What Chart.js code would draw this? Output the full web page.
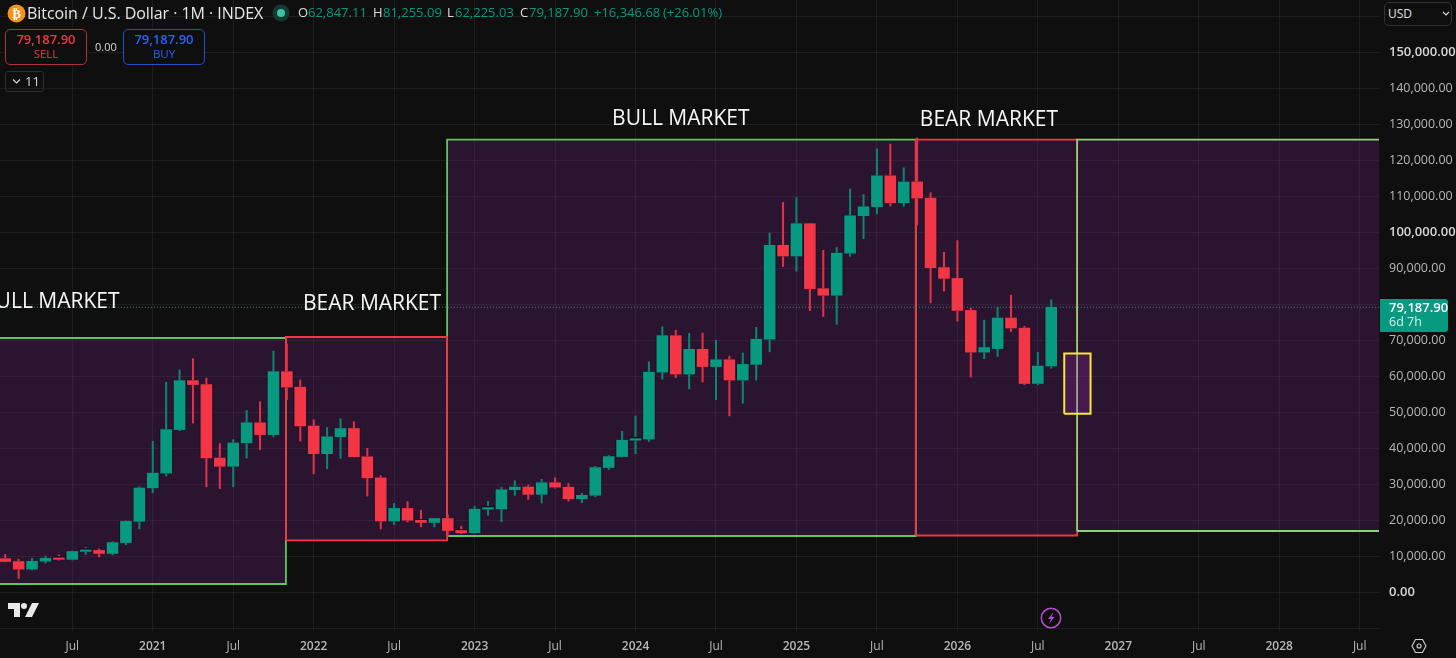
<!DOCTYPE html>
<html><head><meta charset="utf-8">
<script src="https://cdn.jsdelivr.net/npm/chart.js@4"></script>
<style>
html,body{margin:0;padding:0;background:#0f0f0f;width:1456px;height:658px;overflow:hidden;font-family:"Open Sans",sans-serif}
canvas{position:absolute;left:0;top:0}
.t{position:absolute;white-space:nowrap;line-height:1}
.box{position:absolute;box-sizing:border-box;border-radius:5px}
svg{position:absolute}
</style></head><body>
<canvas id="c" width="1456" height="658"></canvas>

<svg style="left:7px;top:4px" width="19" height="19" viewBox="0 0 19 19"><circle cx="9.5" cy="9.5" r="9" fill="#f7931a"/><text x="9.5" y="14" font-size="13" font-weight="700" fill="#fff" text-anchor="middle" font-family="DejaVu Sans">₿</text></svg>
<div class="t" style="left:27px;top:5px;font-size:16px;color:#e8e8e8;letter-spacing:-.05px">Bitcoin / U.S. Dollar · 1M · INDEX</div>
<svg style="left:271px;top:3px" width="20" height="20"><circle cx="10" cy="10" r="8.5" fill="#123a33"/><circle cx="10" cy="10" r="4" fill="#3fc1a6"/></svg>
<div class="t" style="left:298px;top:6px;font-size:13px;color:#dcdcdc">O</div>
<div class="t" style="left:308px;top:6px;font-size:13px;color:#089981">62,847.11</div>
<div class="t" style="left:373px;top:6px;font-size:13px;color:#dcdcdc">H</div>
<div class="t" style="left:383px;top:6px;font-size:13px;color:#089981">81,255.09</div>
<div class="t" style="left:447px;top:6px;font-size:13px;color:#dcdcdc">L</div>
<div class="t" style="left:455px;top:6px;font-size:13px;color:#089981">62,225.03</div>
<div class="t" style="left:520px;top:6px;font-size:13px;color:#dcdcdc">C</div>
<div class="t" style="left:529px;top:6px;font-size:13px;color:#089981">79,187.90</div>
<div class="t" style="left:594px;top:6px;font-size:13px;color:#089981">+16,346.68</div>
<div class="t" style="left:663px;top:6px;font-size:13px;color:#089981">(+26.01%)</div>

<div class="box" style="left:5px;top:29px;width:82px;height:36px;border:1px solid #a8343f;background:#0f0f0f"></div>
<div class="t" style="left:5px;top:33px;width:82px;text-align:center;font-size:13px;font-weight:600;color:#f23645">79,187.90</div>
<div class="t" style="left:5px;top:48px;width:82px;text-align:center;font-size:11.5px;color:#f23645">SELL</div>
<div class="t" style="left:95px;top:41px;font-size:11px;color:#d8d8d8">0.00</div>
<div class="box" style="left:123px;top:29px;width:82px;height:36px;border:1px solid #2450c0;background:#0f0f0f"></div>
<div class="t" style="left:123px;top:33px;width:82px;text-align:center;font-size:13px;font-weight:600;color:#2962ff">79,187.90</div>
<div class="t" style="left:123px;top:48px;width:82px;text-align:center;font-size:11.5px;color:#2962ff">BUY</div>
<div class="box" style="left:5px;top:71px;width:39px;height:21px;border:1px solid #2e2e2e;border-radius:3px"></div>
<svg style="left:12px;top:78px" width="9" height="7"><path d="M1 1.5 L4.5 5 L8 1.5" fill="none" stroke="#d8d8d8" stroke-width="1.2"/></svg>
<div class="t" style="left:25px;top:75px;font-size:13px;color:#d8d8d8">11</div>

<div class="box" style="left:1384px;top:2px;width:68px;height:24px;border:1px solid #333;background:#0f0f0f"></div>
<div class="t" style="left:1388px;top:8px;font-size:12px;color:#e0e0e0">USD</div>
<svg style="left:1442px;top:11px" width="8" height="6"><path d="M1 1 L4 4 L7 1" fill="none" stroke="#d8d8d8" stroke-width="1.2"/></svg>

<div class="box" style="left:1380px;top:299px;width:68px;height:33px;background:#089981;border-radius:0 3px 3px 0"></div>
<div class="t" style="left:1389px;top:301px;font-size:13px;font-weight:600;color:#fff">79,187.90</div>
<div class="t" style="left:1389px;top:316px;font-size:12.5px;color:#d6f0ea">6d 7h</div>

<svg style="left:8px;top:603px" width="32" height="16" viewBox="0 0 32 16"><path d="M0 0H12V14H6V6H0Z M24 0H31L24 14H17Z" fill="#e8e8e8"/><circle cx="16" cy="3" r="3" fill="#e8e8e8"/></svg>
<svg style="left:1040px;top:607px" width="22" height="22" viewBox="0 0 22 22"><circle cx="11" cy="11" r="9.7" fill="none" stroke="#b54fd0" stroke-width="1.5"/><path d="M13.5 5 L8 12 H11 L9 17 L14.5 10 H11.5Z" fill="#b54fd0"/></svg>
<svg style="left:1411px;top:638px" width="16" height="16" viewBox="0 0 16 16"><path d="M4.5 1.5 H11.5 L15 8 L11.5 14.5 H4.5 L1 8Z" fill="none" stroke="#d0d0d0" stroke-width="1.1"/><circle cx="8" cy="8" r="2" fill="none" stroke="#d0d0d0" stroke-width="1.1"/></svg>

<script>
// Categories: one monthly candle each, Feb 2020 .. Aug 2026
const months = ['2020-02','2020-03','2020-04','2020-05','2020-06','2020-07','2020-08','2020-09','2020-10','2020-11','2020-12','2021-01','2021-02','2021-03','2021-04','2021-05','2021-06','2021-07','2021-08','2021-09','2021-10','2021-11','2021-12','2022-01','2022-02','2022-03','2022-04','2022-05','2022-06','2022-07','2022-08','2022-09','2022-10','2022-11','2022-12','2023-01','2023-02','2023-03','2023-04','2023-05','2023-06','2023-07','2023-08','2023-09','2023-10','2023-11','2023-12','2024-01','2024-02','2024-03','2024-04','2024-05','2024-06','2024-07','2024-08','2024-09','2024-10','2024-11','2024-12','2025-01','2025-02','2025-03','2025-04','2025-05','2025-06','2025-07','2025-08','2025-09','2025-10','2025-11','2025-12','2026-01','2026-02','2026-03','2026-04','2026-05','2026-06','2026-07','2026-08'];

const opens  = [9350,8550,6420,8620,9450,9140,11350,11650,10780,13800,19700,29000,33100,45200,58800,57700,37300,35000,41500,47100,43800,61300,57000,46200,38500,43200,45500,37650,31800,19800,23300,20000,19400,20500,17150,16550,23100,23150,28500,29250,27200,30450,29200,25950,26950,34650,37700,42250,42580,61150,71300,60600,67500,62700,64600,58950,63300,70300,96400,93400,102400,84350,82500,94200,104600,107100,115700,108200,114000,109500,90200,87200,78300,66700,67700,76200,73400,58000,62847];
const highs  = [10500,9190,9460,10070,10380,11440,12480,12050,14100,19860,29300,41950,58350,61800,64900,59500,41300,42400,50500,52900,67000,69000,59000,47900,45800,48200,47400,40000,32400,24700,25200,22800,20500,21500,18400,23900,25250,29200,31000,29800,31400,31800,30200,27500,35000,38000,44700,49000,64000,73800,72800,71900,72000,70000,65600,66500,73600,99800,108300,109600,102500,95000,95800,112000,110500,123200,124500,117900,126200,111000,94450,97700,78900,75600,79200,82550,73900,66700,81255];
const lows   = [8450,3850,6150,8100,8900,8970,10500,9880,10370,13200,17600,27700,32300,44900,47000,29300,28800,29300,37300,39600,43200,53500,42000,32900,34300,37200,37600,26700,17600,18800,19500,18200,18150,15500,16300,16500,21400,19600,26950,25800,24800,28900,25300,24900,26550,34100,37600,38500,41900,59200,59600,56500,58400,53500,49000,52500,58900,66800,90500,89200,78200,76600,74400,93300,98200,105100,107300,107200,102000,80400,83650,75300,59800,64900,65500,72400,57700,57600,62225];
const closes = [8550,6420,8620,9450,9140,11350,11650,10780,13800,19700,29000,33100,45200,58800,57700,37300,35000,41500,47100,43800,61300,57000,46200,38500,43200,45500,37650,31800,19800,23300,20000,19400,20500,17150,16550,23100,23150,28500,29250,27200,30450,29200,25950,26950,34650,37700,42250,42580,61150,71300,60600,67500,62700,64600,58950,63300,70300,96400,93400,102400,84350,82500,94200,104600,107100,115700,108200,114000,109500,90200,87200,78300,66700,68000,76200,73400,58000,62847,79188];

// Tick labels
const xTickIndex  = [5,11,17,23,29,35,41,47,53,59,65,71,77,83,89,95,101];
const xTickLabels = ['Jul','2021','Jul','2022','Jul','2023','Jul','2024','Jul','2025','Jul','2026','Jul','2027','Jul','2028','Jul'];
const yTickValues = [-10000,0,10000,20000,30000,40000,50000,60000,70000,80000,90000,100000,110000,120000,130000,140000,150000,160000];
const yTickHidden = [-10000,80000,160000];
const yTickBold   = [0,100000,150000];

// Range boxes: [first month index, last month index, lower price, upper price]
const bullBoxA = [-8,20.93,2300,70640];
const bearBoxA = [20.93,32.95,14440,70920];
const bullBoxB = [32.95,67.9,15640,125720];
const bearBoxB = [67.9,79.93,15780,125720];
const bullBoxC = [79.93,112,17030,125720];
const yellowBox = [78.97,80.93,49600,66300];
const lastPrice = 79187.9;

// Text notes placed on the price chart: [text, month index, price]
const notes = [['BULL MARKET',-1.73,80600],['BEAR MARKET',22.2,80040],['BULL MARKET',45.25,131430],['BEAR MARKET',68.2,131150]];

const up = '#089981', down = '#f23645';
const colours = opens.map((o,i)=> closes[i] >= o ? up : down);
const wickCols = opens.map((o,i)=> closes[i] >= o ? '#0b8672' : '#e03247');

function boxFill(b, fillCol, ord){
  const [x0,x1,lo,hi] = b;
  return {type:'line', data:[{x:x0,y:hi},{x:x1,y:hi}], borderWidth:0, borderColor:'transparent', backgroundColor:fillCol, fill:{value:lo}, pointRadius:0, tension:0, order:ord};
}
function boxLine(b, line, w, ord){
  const [x0,x1,lo,hi] = b;
  return {type:'line', data:[{x:x0,y:lo},{x:x0,y:hi},{x:x1,y:hi},{x:x1,y:lo},{x:x0,y:lo}], borderColor:line, borderWidth:w, fill:false, pointRadius:0, tension:0, order:ord};
}
const fillViolet = 'rgba(156,39,176,0.2)';
const grey = '#b8b8b8';
const isBold = c => !!c.tick && yTickBold.includes(c.tick.value);
const isYear = c => !!c.tick && xTickLabels[xTickIndex.indexOf(c.tick.value)] !== 'Jul';

const notePlugin = {
  id:'notes',
  afterDatasetsDraw(chart){
    const {ctx,scales:{x,y}} = chart;
    ctx.save();
    ctx.font = '500 21px "Open Sans"';
    ctx.fillStyle = '#f8f8f8';
    ctx.textAlign = 'left';
    ctx.textBaseline = 'middle';
    notes.forEach(n => ctx.fillText(n[0], x.getPixelForValue(n[1]), y.getPixelForValue(n[2])));
    ctx.restore();
  }
};

new Chart(document.getElementById('c'), {
  data:{ datasets:[
    boxFill(bullBoxA,fillViolet,20),
    boxFill(bullBoxB,fillViolet,20),
    boxFill(bearBoxA,fillViolet,20),
    boxFill(bearBoxB,fillViolet,20),
    boxFill(bullBoxC,fillViolet,20),
    boxLine(bullBoxA,'#5cc85c',1.8,14),
    boxLine(bullBoxB,'#5cc85c',1.8,13),
    boxLine(bearBoxA,'#f23645',1.8,12),
    boxLine(bearBoxB,'#f23645',1.8,11),
    boxLine(bullBoxC,'#8fd07a',1.8,10),
    {type:'line', data:[{x:-1,y:lastPrice},{x:103,y:lastPrice}], borderColor:'rgba(60,170,150,0.85)', borderWidth:1, borderDash:[1,2], pointRadius:0, order:9},
    {type:'bar', data:months.map((m,i)=>({x:i,y:[lows[i],highs[i]]})), backgroundColor:wickCols, barThickness:1.4, grouped:false, order:6},
    {type:'bar', data:months.map((m,i)=>({x:i,y:[opens[i],closes[i]]})), backgroundColor:'#1c0f28', barThickness:13, minBarLength:3, grouped:false, order:5},
    {type:'bar', data:months.map((m,i)=>({x:i,y:[opens[i],closes[i]]})), backgroundColor:colours, barThickness:11, minBarLength:1.5, grouped:false, order:4},
    boxFill(yellowBox,'rgba(156,39,176,0.25)',2),
    boxLine(yellowBox,'#f5e936',2,1),
  ]},
  options:{
    responsive:false, animation:false, devicePixelRatio:1,
    layout:{padding:0},
    plugins:{legend:{display:false},tooltip:{enabled:false}},
    scales:{
      x:{type:'linear',offset:false,min:-0.391,max:102.44,position:'bottom',
        afterFit(s){s.height=27;s.paddingLeft=0;s.paddingRight=0;},
        afterBuildTicks(s){s.ticks=xTickIndex.map(v=>({value:v}));},
        grid:{color:'rgba(255,255,255,0.06)',drawTicks:false,offset:false},border:{display:false},
        ticks:{autoSkip:false,maxRotation:0,padding:8,color:grey,font:c=>({family:'"Open Sans"',size:12,weight:isYear(c)?'600':'400'}),
          callback:v=>xTickLabels[xTickIndex.indexOf(v)]}},
      y:{type:'linear',position:'right',min:-10750,max:164528,
        afterFit(s){s.width=77;s.paddingTop=0;s.paddingBottom=0;},
        afterBuildTicks(s){s.ticks=yTickValues.map(v=>({value:v}));},
        grid:{color:'rgba(255,255,255,0.06)',drawTicks:false},border:{display:false},
        ticks:{autoSkip:false,crossAlign:'near',padding:10,
          color:c=>isBold(c)?'#d8d8d8':grey,
          font:c=>({family:'"Open Sans"',size:c.tick&&!isBold(c)?12.5:13,weight:isBold(c)?'600':'400'}),
          callback:v=>yTickHidden.includes(v)?'':v.toLocaleString('en-US',{minimumFractionDigits:2,maximumFractionDigits:2})}}
    }
  },
  plugins:[notePlugin]
});
</script>
</body></html>
